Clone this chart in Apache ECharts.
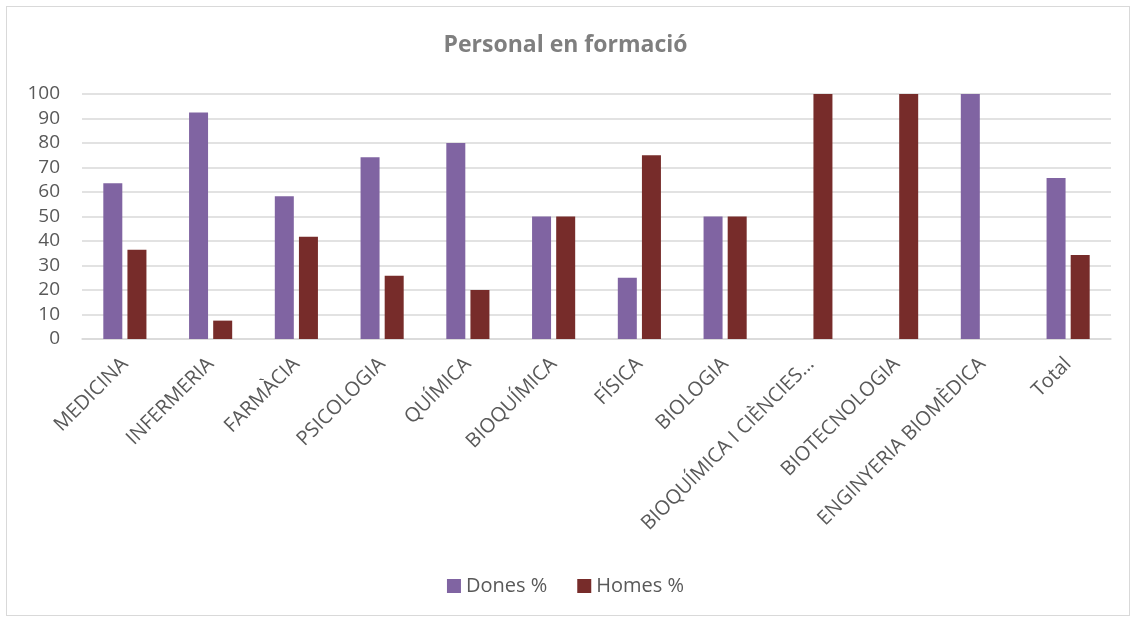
<!DOCTYPE html>
<html>
<head>
<meta charset="utf-8">
<script src="https://cdn.jsdelivr.net/npm/echarts@6/dist/echarts.min.js"></script>
<style>
  html, body { margin: 0; padding: 0; background: #fff; }
  #frame { position: absolute; left: 6px; top: 6px; width: 1124px; height: 610px; border: 1px solid #d9d9d9; box-sizing: border-box; }
  #chart { position: absolute; left: 0; top: 0; width: 1131px; height: 618px; }
</style>
</head>
<body>
<div id="frame"></div>
<div id="chart"></div>
<script>
const categories = ['MEDICINA', 'INFERMERIA', 'FARMÀCIA', 'PSICOLOGIA', 'QUÍMICA', 'BIOQUÍMICA', 'FÍSICA', 'BIOLOGIA', 'BIOQUÍMICA I CIÈNCIES…', 'BIOTECNOLOGIA', 'ENGINYERIA BIOMÈDICA', 'Total']
const dones = [63.6, 92.5, 58.3, 74.2, 80, 50, 25, 50, 0, 0, 100, 65.7]
const homes = [36.4, 7.5, 41.7, 25.8, 20, 50, 75, 50, 100, 100, 0, 34.3]

const font = 'Open Sans, Noto Sans, sans-serif'
const textColor = '#595959'

const chart = echarts.init(document.getElementById('chart'))

chart.setOption({
  animation: false,
  title: {
    text: 'Personal en formació',
    left: 'center',
    top: 29,
    textStyle: { fontFamily: font, fontSize: 23, fontWeight: 'bold', color: '#7f7f7f' }
  },
  legend: {
    bottom: 17,
    left: 'center',
    itemWidth: 14,
    itemHeight: 14,
    itemGap: 30,
    icon: 'rect',
    textStyle: { fontFamily: font, fontSize: 20, color: textColor }
  },
  grid: {
    left: 82,
    right: 20,
    top: 94,
    bottom: 279
  },
  xAxis: {
    type: 'category',
    data: categories,
    axisLine: { lineStyle: { color: '#d9d9d9', width: 1.5 } },
    axisTick: { show: false },
    axisLabel: {
      rotate: 45,
      interval: 0,
      margin: 22,
      fontFamily: font,
      fontSize: 20,
      color: textColor
    }
  },
  yAxis: {
    type: 'value',
    min: 0,
    max: 100,
    interval: 10,
    axisLine: { show: false },
    axisTick: { show: false },
    axisLabel: { fontFamily: font, fontSize: 19, color: textColor, margin: 22 },
    splitLine: { lineStyle: { color: '#d9d9d9', width: 1.5 } }
  },
  series: [
    {
      name: 'Dones %',
      type: 'bar',
      data: dones,
      barWidth: 19,
      barGap: '27%',
      itemStyle: { color: '#8064a2' }
    },
    {
      name: 'Homes %',
      type: 'bar',
      data: homes,
      barWidth: 19,
      itemStyle: { color: '#772c2a' }
    }
  ]
})
</script>
</body>
</html>
